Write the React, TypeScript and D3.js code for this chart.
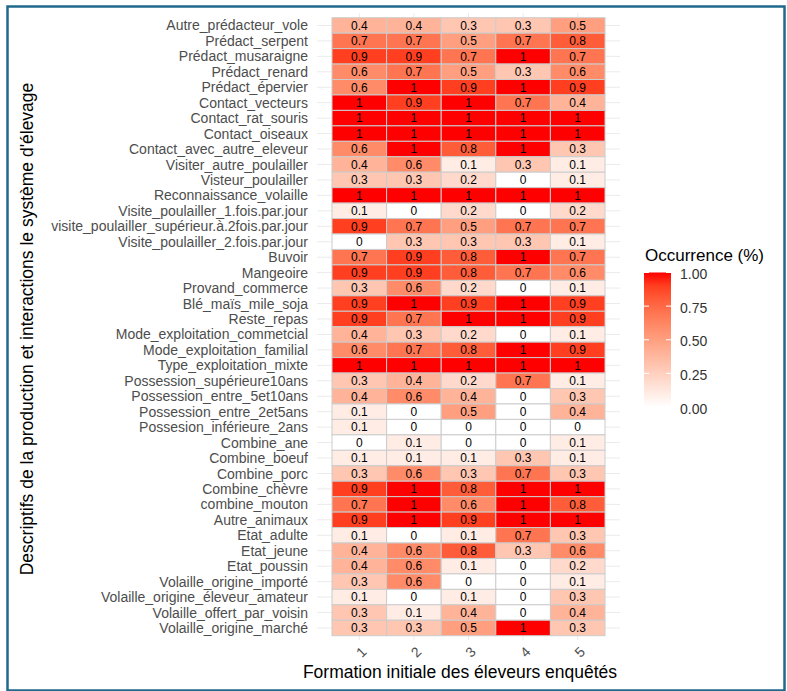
import React from 'react';
import * as d3 from 'd3';

// Descriptors (rows, top to bottom)
const descripteurs = [
  'Autre_prédacteur_vole',
  'Prédact_serpent',
  'Prédact_musaraigne',
  'Prédact_renard',
  'Prédact_épervier',
  'Contact_vecteurs',
  'Contact_rat_souris',
  'Contact_oiseaux',
  'Contact_avec_autre_eleveur',
  'Visiter_autre_poulailler',
  'Visteur_poulailler',
  'Reconnaissance_volaille',
  'Visite_poulailler_1.fois.par.jour',
  'visite_poulailler_supérieur.à.2fois.par.jour',
  'Visite_poulailler_2.fois.par.jour',
  'Buvoir',
  'Mangeoire',
  'Provand_commerce',
  'Blé_maïs_mile_soja',
  'Reste_repas',
  'Mode_exploitation_commetcial',
  'Mode_exploitation_familial',
  'Type_exploitation_mixte',
  'Possession_supérieure10ans',
  'Possession_entre_5et10ans',
  'Possession_entre_2et5ans',
  'Possesion_inférieure_2ans',
  'Combine_ane',
  'Combine_boeuf',
  'Combine_porc',
  'Combine_chèvre',
  'combine_mouton',
  'Autre_animaux',
  'Etat_adulte',
  'Etat_jeune',
  'Etat_poussin',
  'Volaille_origine_importé',
  'Volaille_origine_éleveur_amateur',
  'Volaille_offert_par_voisin',
  'Volaille_origine_marché',
];

const formations = ['1', '2', '3', '4', '5'];

// occurrence per formation level, same order as descripteurs
const f1 = [0.4, 0.7, 0.9, 0.6, 0.6, 1, 1, 1, 0.6, 0.4, 0.3, 1, 0.1, 0.9, 0, 0.7, 0.9, 0.3, 0.9, 0.9, 0.4, 0.6, 1, 0.3, 0.4, 0.1, 0.1, 0, 0.1, 0.3, 0.9, 0.7, 0.9, 0.1, 0.4, 0.4, 0.3, 0.1, 0.3, 0.3];
const f2 = [0.4, 0.7, 0.9, 0.7, 1, 0.9, 1, 1, 1, 0.6, 0.3, 1, 0, 0.7, 0.3, 0.9, 0.9, 0.6, 1, 0.7, 0.3, 0.7, 1, 0.4, 0.6, 0, 0, 0.1, 0.1, 0.6, 1, 1, 1, 0, 0.6, 0.6, 0.6, 0, 0.1, 0.3];
const f3 = [0.3, 0.5, 0.7, 0.5, 0.9, 1, 1, 1, 0.8, 0.1, 0.2, 1, 0.2, 0.5, 0.3, 0.8, 0.8, 0.2, 0.9, 1, 0.2, 0.8, 1, 0.2, 0.4, 0.5, 0, 0, 0.1, 0.3, 0.8, 0.6, 0.9, 0.1, 0.8, 0.1, 0, 0.1, 0.4, 0.5];
const f4 = [0.3, 0.7, 1, 0.3, 1, 0.7, 1, 1, 1, 0.3, 0, 1, 0, 0.7, 0.3, 1, 0.7, 0, 1, 1, 0, 1, 1, 0.7, 0, 0, 0, 0, 0.3, 0.7, 1, 1, 1, 0.7, 0.3, 0, 0, 0, 0, 1];
const f5 = [0.5, 0.8, 0.7, 0.6, 0.9, 0.4, 1, 1, 0.3, 0.1, 0.1, 1, 0.2, 0.7, 0.1, 0.7, 0.6, 0.1, 0.9, 0.9, 0.1, 0.9, 1, 0.1, 0.3, 0.4, 0, 0.1, 0.1, 0.3, 1, 0.8, 1, 0.3, 0.6, 0.2, 0.1, 0.3, 0.4, 0.3];

const series = [f1, f2, f3, f4, f5];
const legendTicks = [0, 0.25, 0.5, 0.75, 1];

const W = 787;
const H = 691;
const FONT = '"Liberation Sans", Arial, sans-serif';

const App: React.FC = () => {
  // tile area
  const x = d3.scaleBand().domain(formations).range([332, 605]).padding(0);
  const y = d3.scaleBand().domain(descripteurs).range([17.7, 635.7]).padding(0);
  const panel = { left: 317, right: 620, top: 13, bottom: 640 };

  const fill = d3
    .scaleLinear<string>()
    .domain([0, 1])
    .range(['#ffffff', '#ff0000'])
    .interpolate(d3.interpolateLab);

  const cells = descripteurs.flatMap((d, i) =>
    formations.map((f, j) => ({ row: d, col: f, value: series[j][i] }))
  );

  // legend
  const lg = { x: 644, w: 27 };
  const ly = d3.scaleLinear().domain([0, 1]).range([407, 272.5]);
  const stops = d3.range(0, 1.0001, 0.1);

  return (
    <svg
      width={W}
      height={H}
      style={{ position: 'absolute', left: 0, top: 0, background: '#fff' }}
      fontFamily={FONT}
    >
      <defs>
        <linearGradient id="occGrad" x1="0" y1="1" x2="0" y2="0">
          {stops.map((s) => (
            <stop key={s} offset={s} stopColor={fill(s)} />
          ))}
        </linearGradient>
      </defs>

      {/* frame */}
      <rect x={7.5} y={6.5} width={777} height={684} fill="none" stroke="#1f6a8c" strokeWidth={2.5} />

      {/* grid lines */}
      <g stroke="#ebebeb" strokeWidth={1}>
        {descripteurs.map((d) => (
          <line key={d} x1={panel.left} x2={panel.right} y1={y(d)! + y.bandwidth() / 2} y2={y(d)! + y.bandwidth() / 2} />
        ))}
        {formations.map((f) => (
          <line key={f} y1={panel.top} y2={panel.bottom} x1={x(f)! + x.bandwidth() / 2} x2={x(f)! + x.bandwidth() / 2} />
        ))}
      </g>

      {/* tiles */}
      <g>
        {cells.map((c) => (
          <rect
            key={c.row + c.col}
            x={x(c.col)}
            y={y(c.row)}
            width={x.bandwidth()}
            height={y.bandwidth()}
            fill={fill(c.value)}
            stroke="#cccccc"
            strokeWidth={1}
          />
        ))}
      </g>
      <g fontSize={12} fill="#000" textAnchor="middle">
        {cells.map((c) => (
          <text
            key={'t' + c.row + c.col}
            x={x(c.col)! + x.bandwidth() / 2}
            y={y(c.row)! + y.bandwidth() / 2}
            dy="0.36em"
          >
            {String(c.value)}
          </text>
        ))}
      </g>

      {/* y axis labels */}
      <g fontSize={14} fill="#4d4d4d" textAnchor="end">
        {descripteurs.map((d) => (
          <text key={d} x={308} y={y(d)! + y.bandwidth() / 2} dy="0.36em">
            {d}
          </text>
        ))}
      </g>

      {/* x axis labels */}
      <g fontSize={14} fill="#4d4d4d" textAnchor="middle">
        {formations.map((f) => (
          <text
            key={f}
            transform={`translate(${x(f)! + x.bandwidth() / 2 + 2},652) rotate(-45)`}
            dy="0.36em"
          >
            {f}
          </text>
        ))}
      </g>

      {/* axis titles */}
      <text x={460} y={678} fontSize={17.5} fill="#000" textAnchor="middle">
        Formation initiale des éleveurs enquêtés
      </text>
      <text
        transform="translate(33,329) rotate(-90)"
        fontSize={17.5}
        fill="#000"
        textAnchor="middle"
      >
        Descriptifs de la production et interactions le système d'élevage
      </text>

      {/* legend */}
      <text x={645} y={261} fontSize={17} fill="#000">
        Occurrence (%)
      </text>
      <rect x={lg.x} y={ly(1)} width={lg.w} height={ly(0) - ly(1)} fill="url(#occGrad)" />
      <g stroke="#fff" strokeWidth={1}>
        {legendTicks.map((t) => (
          <g key={t}>
            <line x1={lg.x} x2={lg.x + 5} y1={ly(t)} y2={ly(t)} />
            <line x1={lg.x + lg.w - 5} x2={lg.x + lg.w} y1={ly(t)} y2={ly(t)} />
          </g>
        ))}
      </g>
      <g fontSize={14} fill="#333">
        {legendTicks.map((t) => (
          <text key={t} x={680} y={ly(t) + 1.5} dy="0.36em">
            {t.toFixed(2)}
          </text>
        ))}
      </g>
    </svg>
  );
};

export default App;
